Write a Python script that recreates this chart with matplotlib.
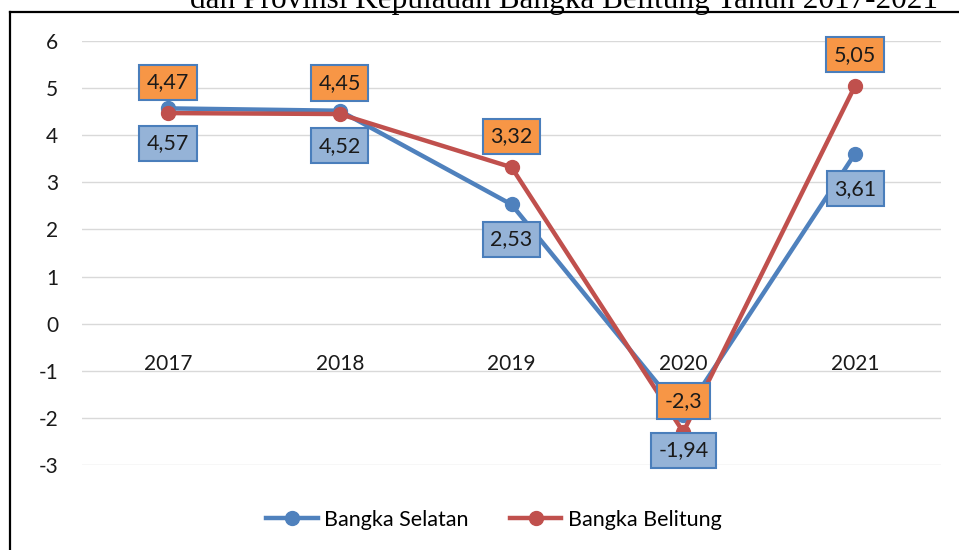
import matplotlib.pyplot as plt
from matplotlib.lines import Line2D

years = ["2017", "2018", "2019", "2020", "2021"]
bangka_selatan = [4.57, 4.52, 2.53, -1.94, 3.61]
bangka_belitung = [4.47, 4.45, 3.32, -2.3, 5.05]
y_ticks = [-3, -2, -1, 0, 1, 2, 3, 4, 5, 6]
title = "dan Provinsi Kepulauan Bangka Belitung Tahun 2017-2021"

blue = "#4F81BD"
red = "#C0504D"
plt.rcParams['font.family'] = ['Lato', 'DejaVu Sans']

fig = plt.figure(figsize=(9.59, 5.5), dpi=100)
ax = fig.add_axes([82 / 959, 1 - 465 / 550, 859 / 959, 424 / 550])

x = list(range(len(years)))
ax.plot(x, bangka_selatan, color=blue, lw=3.2, marker='o', ms=10,
        label="Bangka Selatan", zorder=3)
ax.plot(x, bangka_belitung, color=red, lw=3.2, marker='o', ms=10,
        label="Bangka Belitung", zorder=4)

def fmt(v):
    return f"{v:g}".replace('.', ',')

for xi, v in zip(x, bangka_belitung):
    ax.annotate(fmt(v), (xi, v), xytext=(0, 31), textcoords='offset pixels',
                ha='center', va='center', fontsize=15.5, color='#1a1a1a', zorder=6,
                bbox=dict(boxstyle='square,pad=0.35', fc='#F79646', ec='#4A7EBB', lw=1.5))
for xi, v in zip(x, bangka_selatan):
    ax.annotate(fmt(v), (xi, v), xytext=(0, -35), textcoords='offset pixels',
                ha='center', va='center', fontsize=15.5, color='#1a1a1a', zorder=5,
                bbox=dict(boxstyle='square,pad=0.35', fc='#95B3D7', ec='#4A7EBB', lw=1.5))

ax.set_xlim(-0.5, len(years) - 0.5)
ax.set_ylim(-3, 6)
ax.set_yticks(y_ticks)
ax.set_yticklabels([str(t) for t in y_ticks])
ax.set_xticks(x)
ax.set_xticklabels(years)
ax.grid(axis='y', color='#D9D9D9', lw=1)
ax.set_axisbelow(True)
for s in ax.spines.values():
    s.set_visible(False)
ax.spines['bottom'].set_position(('data', 0))
ax.tick_params(axis='y', length=0, pad=17, labelsize=15, colors='#1a1a1a')
ax.tick_params(axis='x', length=0, pad=22, labelsize=15, colors='#1a1a1a')

fig.legend(loc='center', bbox_to_anchor=(0.515, 1 - 520 / 550), ncol=2,
           frameon=False, fontsize=15.5, handlelength=2.4, columnspacing=1.9,
           handletextpad=0.3)

# frame of the chart, cut off at right and bottom
fig.add_artist(Line2D([10 / 959, 1], [1 - 12 / 550, 1 - 12 / 550],
                      color='black', lw=1.6, transform=fig.transFigure))
fig.add_artist(Line2D([10 / 959, 10 / 959], [1 - 12 / 550, 0],
                      color='black', lw=1.6, transform=fig.transFigure))
fig.text(564 / 959, 1 - 8 / 550, title, ha='center', va='baseline',
         fontsize=22.5, family=['Liberation Serif', 'DejaVu Serif'])

fig.savefig("out.png", dpi=100)
